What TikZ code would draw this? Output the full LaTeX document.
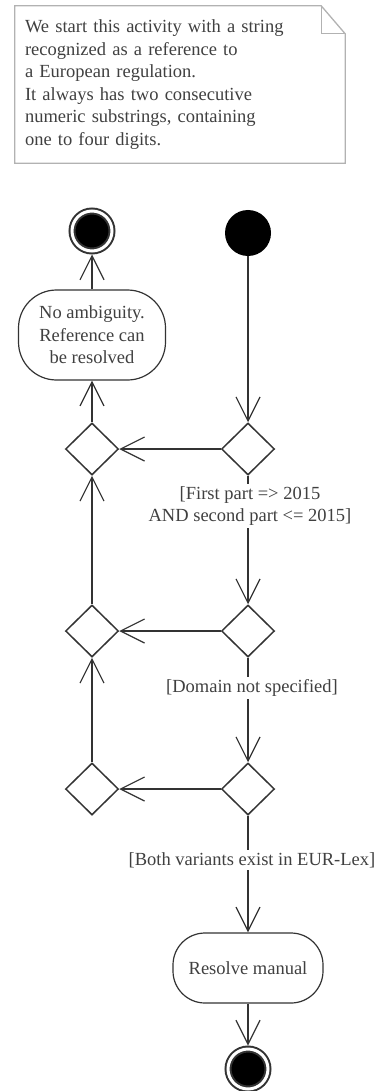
\documentclass[tikz,border=0pt]{standalone}
\usepackage{fontspec}
\setmainfont{Liberation Serif}
\usetikzlibrary{shapes.geometric,arrows.meta}

\begin{document}
\begin{tikzpicture}[x=1pt,y=-1pt,
  >={Straight Barb[length=24pt,width=24pt]},
  every node/.style={font=\fontsize{18.5}{22.6}\selectfont,text=black!75},
  flow/.style={draw=black!80,line width=1.2pt},
  decision/.style={diamond,draw=black!80,line width=1.5pt,minimum width=53pt,minimum height=52pt,inner sep=0pt},
  action/.style={rectangle,draw=black!80,line width=1.2pt,align=center,inner sep=0pt},
  startdot/.style={circle,fill=black,minimum size=46pt,inner sep=0pt},
  enddot/.style={circle,fill=black,draw=black!80,line width=2pt,double=white,double distance=3pt,minimum size=40pt,inner sep=0pt,outer sep=3.5pt},
  guard/.style={align=center,inner sep=2.5pt},
  memo/.style={minimum width=330pt,minimum height=157pt,text width=310pt,align=left,inner sep=0pt}]
  \useasboundingbox (0,0) rectangle (378,1091);

  % note
  \node[memo] (note) at (180,84.5) {We start this activity with a string\\
    recognized as a reference to\\
    a European regulation.\\
    It always has two consecutive\\
    numeric substrings, containing\\
    one to four digits.};
  \draw[black!30,line width=1.3pt] (note.north west) -- ([xshift=-24pt]note.north east)
    -- ([yshift=-28pt]note.north east) -- (note.south east) -- (note.south west) -- cycle;
  \draw[black!30,line width=1.3pt] ([xshift=-24pt]note.north east) -- ([xshift=-24pt,yshift=-28pt]note.north east)
    -- ([yshift=-28pt]note.north east);

  % right column
  \node[startdot] (start) at (248,233) {};
  \node[decision] (d1) at (248,449) {};
  \node[guard] (g1) at (250,506) {[First part => 2015\\AND second part <= 2015]};
  \node[decision] (d2) at (248,631) {};
  \node[guard] (g2) at (252,688) {[Domain not specified]};
  \node[decision] (d3) at (248,789) {};
  \node[guard] (g3) at (252,860) {[Both variants exist in EUR-Lex]};
  \node[action,minimum width=150pt,minimum height=70pt,rounded corners=32pt] (manual) at (248,968) {Resolve manual};
  \node[enddot] (end2) at (248,1069) {};

  % left column
  \node[enddot] (end1) at (92,231) {};
  \node[action,minimum width=147pt,minimum height=90pt,rounded corners=38pt] (noamb) at (92,335)
    {No ambiguity.\\Reference can\\be resolved};
  \node[decision] (l1) at (92,449) {};
  \node[decision] (l2) at (92,631) {};
  \node[decision] (l3) at (92,789) {};

  \draw[flow,->] (start) -- (d1);
  \draw[flow] (d1) -- (d1 |- g1.north);
  \draw[flow,->] (d1 |- g1.south) -- (d2);
  \draw[flow] (d2) -- (d2 |- g2.north);
  \draw[flow,->] (d2 |- g2.south) -- (d3);
  \draw[flow] (d3) -- (d3 |- g3.north);
  \draw[flow,->] (d3 |- g3.south) -- (manual);
  \draw[flow,->] (manual) -- (end2);

  \draw[flow,->] (d1) -- (l1);
  \draw[flow,->] (d2) -- (l2);
  \draw[flow,->] (d3) -- (l3);
  \draw[flow,->] (l3) -- (l2);
  \draw[flow,->] (l2) -- (l1);
  \draw[flow,->] (l1) -- (noamb);
  \draw[flow,->] (noamb) -- (end1);
\end{tikzpicture}
\end{document}
